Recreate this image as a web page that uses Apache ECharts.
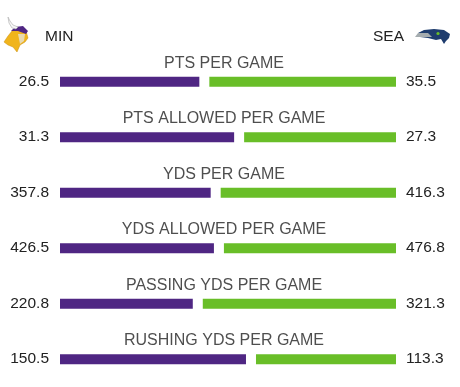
<!DOCTYPE html>
<html>
<head>
<meta charset="utf-8">
<script src="https://cdn.jsdelivr.net/npm/echarts@6/dist/echarts.min.js"></script>
<style>
html,body{margin:0;padding:0;background:#fff;}
#chart{width:460px;height:387px;}
</style>
</head>
<body>
<div id="chart"></div>
<script>
const teamLeft = 'MIN';
const teamRight = 'SEA';
const categories = ['PTS PER GAME', 'PTS ALLOWED PER GAME', 'YDS PER GAME', 'YDS ALLOWED PER GAME', 'PASSING YDS PER GAME', 'RUSHING YDS PER GAME'];
const minValues = [26.5, 31.3, 357.8, 426.5, 220.8, 150.5];
const seaValues = [35.5, 27.3, 416.3, 476.8, 321.3, 113.3];

const SPAN = 336, GAP = 10, USABLE = SPAN - GAP;
const purple = '#4F2683', green = '#69BE28', txt = '#222';
const font = 'Arial, "Liberation Sans", Helvetica, sans-serif';

const leftShare = minValues.map((v, i) => v / (v + seaValues[i]) * USABLE);
const rightShare = seaValues.map((v, i) => v / (minValues[i] + v) * USABLE);

const chart = echarts.init(document.getElementById('chart'), null, {renderer: 'canvas'});
chart.setOption({
  animation: false,
  grid: {left: 60, top: 54, width: SPAN, height: 336, containLabel: false},
  xAxis: {type: 'value', min: 0, max: SPAN, show: false},
  yAxis: {type: 'category', data: categories, inverse: true, show: false},
  textStyle: {fontFamily: font},
  series: [
    {
      type: 'bar', stack: 's', barWidth: 10, data: leftShare,
      itemStyle: {color: purple},
      label: {show: true, position: 'left', distance: 11, color: txt, fontSize: 15.5, fontFamily: font,
        offset: [0, -0.5], formatter: p => minValues[p.dataIndex].toFixed(1)}
    },
    {
      type: 'bar', stack: 's', barWidth: 10, data: categories.map(() => GAP),
      itemStyle: {color: 'rgba(0,0,0,0)'}, silent: true
    },
    {
      type: 'bar', stack: 's', barWidth: 10, data: rightShare,
      itemStyle: {color: green},
      label: {show: true, position: 'right', distance: 10, color: txt, fontSize: 15.5, fontFamily: font,
        offset: [0, -0.5], formatter: p => seaValues[p.dataIndex].toFixed(1)}
    },
    {
      type: 'scatter', symbolSize: 0, silent: true,
      data: categories.map(c => [164, c]),
      label: {show: true, position: 'inside', offset: [0, -18.5], color: txt, fontSize: 16, fontFamily: font,
        formatter: p => categories[p.dataIndex]}
    }
  ],
  graphic: [
    {type: 'text', left: 45, top: 29, style: {text: teamLeft, fill: txt, font: '15.5px ' + font}},
    {type: 'text', right: 56, top: 29, style: {text: teamRight, fill: txt, font: '15.5px ' + font, textAlign: 'right'}},
    // Vikings logo (simplified)
    {type: 'polygon', shape: {points: [[4,42],[8,36],[12,31],[20,28],[26,31],[28,38],[25,42],[20,45],[17,52],[13,47],[8,45]]}, style: {fill: '#F0B41C', stroke: '#C98E10', lineWidth: 0.5}},
    {type: 'polygon', shape: {points: [[11,31],[15,27],[23,26],[28,31],[26,34],[18,31]]}, style: {fill: purple}},
    {type: 'polygon', shape: {points: [[8,17],[9,23],[12,28],[16,29],[18,27],[13,25],[10,21]]}, style: {fill: '#f6f6f6', stroke: '#aaa', lineWidth: 0.6}},
    {type: 'polygon', shape: {points: [[18,34],[25,34],[24,41],[20,44]]}, style: {fill: '#E8D9B0'}},
    // Seahawks logo (simplified)
    {type: 'polygon', shape: {points: [[418,33],[424,30],[434,29],[444,30],[450,34],[449,38],[446,41],[444,44],[441,39],[436,40],[428,38],[420,37]]}, style: {fill: '#1E3C6E'}},
    {type: 'polygon', shape: {points: [[415,37],[418,33],[428,33],[432,37]]}, style: {fill: '#A5ACAF'}},
    {type: 'circle', shape: {cx: 438, cy: 33.5, r: 1.6}, style: {fill: green}}
  ]
});
</script>
</body>
</html>
